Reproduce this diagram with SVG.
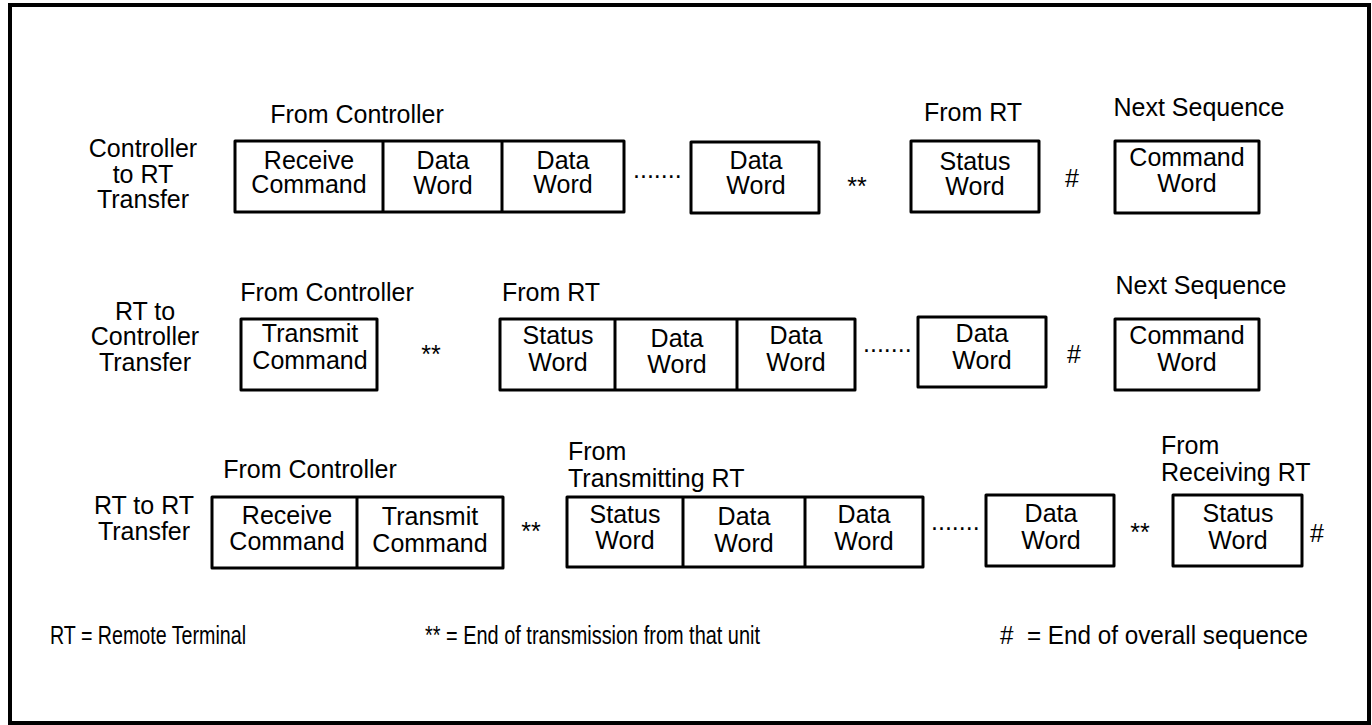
<svg xmlns="http://www.w3.org/2000/svg" width="1372" height="725" viewBox="0 0 1372 725">
<style>
text{font-family:"Liberation Sans",Arial,Helvetica,sans-serif;font-size:25px;fill:#000}
.c{text-anchor:middle}
.lg{font-size:25px}
.box{fill:none;stroke:#000;stroke-width:3;stroke-linejoin:round}
.div{stroke:#000;stroke-width:3}
.frame{fill:#fff;stroke:#000;stroke-width:4}
</style>
<rect x="0" y="0" width="1372" height="725" fill="#fff"/>
<rect class="frame" x="10" y="5" width="1359" height="718"/>

<g id="labels">
<text class="c" x="143" y="157">Controller</text>
<text class="c" x="143" y="183">to RT</text>
<text class="c" x="143" y="208">Transfer</text>
<text class="c" x="357" y="123">From Controller</text>
<text class="c" x="973" y="121">From RT</text>
<text class="c" x="1199" y="116">Next Sequence</text>

<text class="c" x="145" y="320">RT to</text>
<text class="c" x="145" y="345">Controller</text>
<text class="c" x="145" y="371">Transfer</text>
<text class="c" x="327" y="301">From Controller</text>
<text x="502" y="301">From RT</text>
<text class="c" x="1201" y="294">Next Sequence</text>

<text class="c" x="144" y="514">RT to RT</text>
<text class="c" x="144" y="540">Transfer</text>
<text class="c" x="310" y="478">From Controller</text>
<text x="568" y="460">From</text>
<text x="568" y="487">Transmitting RT</text>
<text x="1161" y="454">From</text>
<text x="1161" y="481">Receiving RT</text>
</g>

<g id="marks">
<text x="633" y="178">.......</text>
<text class="c" x="857" y="195">**</text>
<text class="c" x="1072" y="187">#</text>

<text class="c" x="431" y="363">**</text>
<text x="863" y="352">.......</text>
<text class="c" x="1074" y="363">#</text>

<text class="c" x="531" y="540">**</text>
<text x="931" y="530">.......</text>
<text class="c" x="1140" y="541">**</text>
<text class="c" x="1317" y="542">#</text>
</g>

<g id="r1-frame">
<rect class="box" x="235" y="141" width="389" height="71"/>
<line class="div" x1="383" y1="141" x2="383" y2="212"/>
<line class="div" x1="502" y1="141" x2="502" y2="212"/>
<text class="c" x="309" y="169">Receive</text>
<text class="c" x="309" y="193">Command</text>
<text class="c" x="443" y="169">Data</text>
<text class="c" x="443" y="194">Word</text>
<text class="c" x="563" y="169">Data</text>
<text class="c" x="563" y="193">Word</text>
</g>
<g id="r1-data">
<rect class="box" x="691" y="142" width="128" height="71"/>
<text class="c" x="756" y="169">Data</text>
<text class="c" x="756" y="194">Word</text>
</g>
<g id="r1-status">
<rect class="box" x="911" y="141" width="128" height="71"/>
<text class="c" x="975" y="170">Status</text>
<text class="c" x="975" y="195">Word</text>
</g>
<g id="r1-next">
<rect class="box" x="1115" y="141" width="144" height="72"/>
<text class="c" x="1187" y="166">Command</text>
<text class="c" x="1187" y="192">Word</text>
</g>

<g id="r2-transmit">
<rect class="box" x="241" y="319" width="136" height="71"/>
<text class="c" x="310" y="342">Transmit</text>
<text class="c" x="310" y="369">Command</text>
</g>
<g id="r2-frame">
<rect class="box" x="500" y="319" width="355" height="71"/>
<line class="div" x1="615" y1="319" x2="615" y2="390"/>
<line class="div" x1="737" y1="319" x2="737" y2="390"/>
<text class="c" x="558" y="344">Status</text>
<text class="c" x="558" y="371">Word</text>
<text class="c" x="677" y="347">Data</text>
<text class="c" x="677" y="373">Word</text>
<text class="c" x="796" y="344">Data</text>
<text class="c" x="796" y="371">Word</text>
</g>
<g id="r2-data">
<rect class="box" x="918" y="317" width="128" height="70"/>
<text class="c" x="982" y="342">Data</text>
<text class="c" x="982" y="369">Word</text>
</g>
<g id="r2-next">
<rect class="box" x="1115" y="319" width="144" height="71"/>
<text class="c" x="1187" y="344">Command</text>
<text class="c" x="1187" y="371">Word</text>
</g>

<g id="r3-commands">
<rect class="box" x="212" y="497" width="291" height="71"/>
<line class="div" x1="357" y1="497" x2="357" y2="568"/>
<text class="c" x="287" y="524">Receive</text>
<text class="c" x="287" y="550">Command</text>
<text class="c" x="430" y="525">Transmit</text>
<text class="c" x="430" y="552">Command</text>
</g>
<g id="r3-frame">
<rect class="box" x="567" y="497" width="356" height="70"/>
<line class="div" x1="683" y1="497" x2="683" y2="567"/>
<line class="div" x1="805" y1="497" x2="805" y2="567"/>
<text class="c" x="625" y="523">Status</text>
<text class="c" x="625" y="549">Word</text>
<text class="c" x="744" y="525">Data</text>
<text class="c" x="744" y="552">Word</text>
<text class="c" x="864" y="523">Data</text>
<text class="c" x="864" y="550">Word</text>
</g>
<g id="r3-data">
<rect class="box" x="986" y="495" width="128" height="71"/>
<text class="c" x="1051" y="522">Data</text>
<text class="c" x="1051" y="549">Word</text>
</g>
<g id="r3-status">
<rect class="box" x="1173" y="495" width="129" height="71"/>
<text class="c" x="1238" y="522">Status</text>
<text class="c" x="1238" y="549">Word</text>
</g>

<g id="legend">
<text class="lg" x="50" y="644" textLength="196" lengthAdjust="spacingAndGlyphs">RT = Remote Terminal</text>
<text class="lg" x="425" y="644" textLength="335" lengthAdjust="spacingAndGlyphs">** = End of transmission from that unit</text>
<text class="lg" x="1000" y="644" xml:space="preserve" textLength="308" lengthAdjust="spacingAndGlyphs">#  = End of overall sequence</text>
</g>
<g id="connectors"></g>
</svg>
